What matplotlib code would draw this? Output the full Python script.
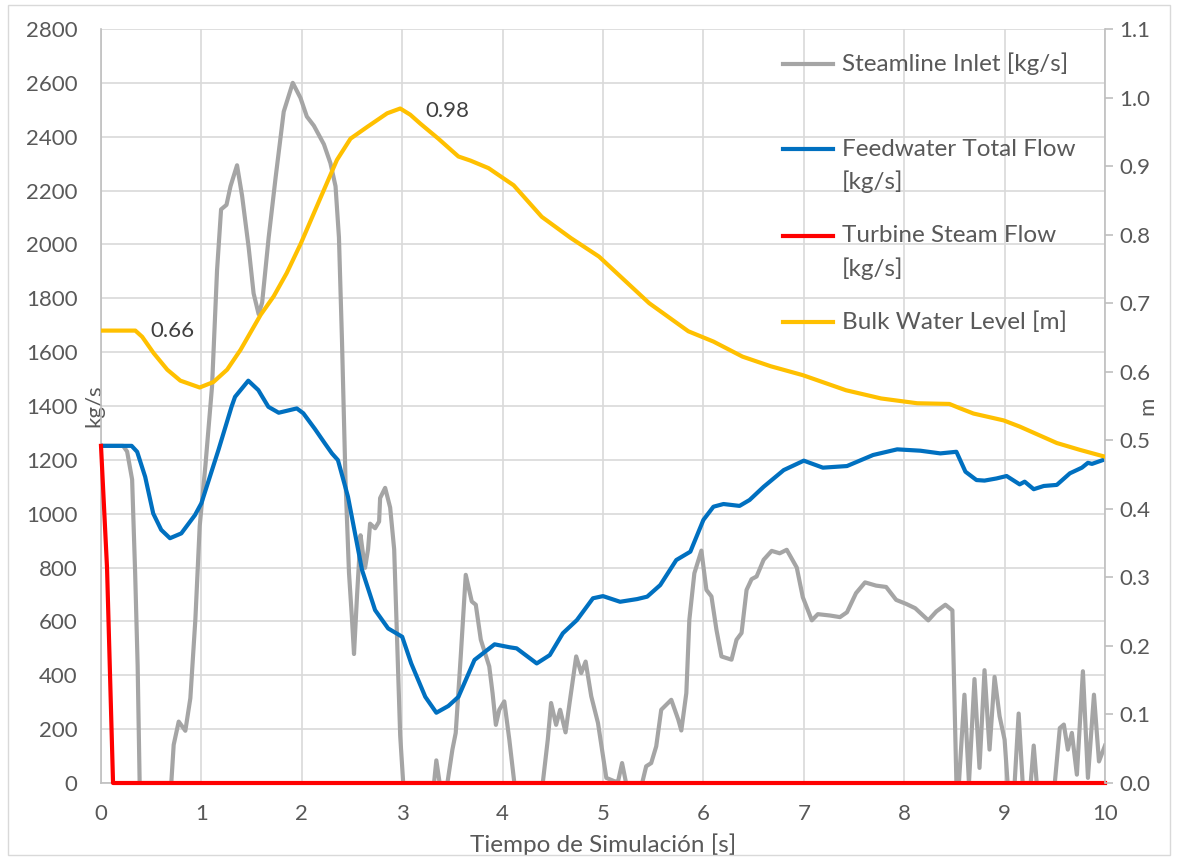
import numpy as np
import matplotlib
matplotlib.use("Agg")
import matplotlib.pyplot as plt
from matplotlib.patches import Rectangle
from matplotlib.lines import Line2D

plt.rcParams['font.family'] = ['Lato', 'DejaVu Sans']

# Steamline Inlet [kg/s]
t_steam = [0, 0.22, 0.26, 0.31, 0.34, 0.365, 0.385, 0.70, 0.724, 0.774, 0.84, 0.89, 0.94, 0.983,
           1.04, 1.106, 1.156, 1.196, 1.25, 1.29, 1.355, 1.405, 1.47, 1.52, 1.57, 1.605, 1.67,
           1.74, 1.82, 1.91, 1.987, 2.05, 2.12, 2.22, 2.285, 2.336, 2.37, 2.40, 2.435, 2.47,
           2.50, 2.52, 2.55, 2.585, 2.61, 2.63, 2.66, 2.68, 2.73, 2.77, 2.78, 2.83, 2.88, 2.92,
           2.95, 2.98, 3.01, 3.317, 3.34, 3.373, 3.45, 3.5, 3.533, 3.583, 3.633, 3.693, 3.733,
           3.783, 3.867, 3.9, 3.933, 3.967, 4.017, 4.067, 4.117, 4.4, 4.45, 4.483, 4.533, 4.573,
           4.627, 4.667, 4.733, 4.783, 4.827, 4.883, 4.95, 5.033, 5.117, 5.15, 5.19, 5.23, 5.39,
           5.43, 5.48, 5.53, 5.58, 5.68, 5.75, 5.78, 5.83, 5.86, 5.91, 5.98, 6.03, 6.08, 6.13,
           6.18, 6.28, 6.33, 6.38, 6.43, 6.48, 6.53, 6.6, 6.68, 6.76, 6.83, 6.93, 6.99, 7.08,
           7.14, 7.26, 7.36, 7.43, 7.52, 7.61, 7.72, 7.82, 7.92, 8.02, 8.11, 8.24, 8.32, 8.41,
           8.48, 8.52, 8.545, 8.60, 8.645, 8.70, 8.75, 8.80, 8.85, 8.90, 8.95, 9.0, 9.03, 9.10,
           9.14, 9.18, 9.26, 9.29, 9.32, 9.5, 9.55, 9.59, 9.63, 9.67, 9.72, 9.78, 9.83, 9.89,
           9.94, 10.0]
steam = [1252, 1252, 1231, 1127, 781, 436, 0, 0, 142, 228, 194, 315, 608, 954,
         1179, 1473, 1905, 2130, 2147, 2216, 2294, 2181, 1991, 1818, 1741, 1784, 2026,
         2251, 2493, 2600, 2544, 2475, 2441, 2372, 2302, 2216, 2026, 1646, 1127, 781,
         608, 479, 695, 920, 850, 799, 868, 963, 946, 971, 1058, 1096, 1023, 868,
         522, 176, 0, 0, 84, 0, 0, 124, 186, 470, 773, 674, 662,
         532, 433, 334, 216, 272, 303, 161, 0, 0, 161, 297, 216, 272,
         188, 297, 470, 408, 451, 322, 223, 19, 6, 6, 74, 0, 0,
         62, 74, 136, 272, 309, 235, 195, 334, 606, 779, 863, 717, 693, 569,
         470, 458, 532, 557, 717, 757, 767, 829, 862, 853, 866, 800, 690, 604,
         627, 622, 616, 634, 705, 745, 733, 728, 680, 665, 649, 604, 637, 662,
         641, 0, 0, 328, 0, 386, 56, 419, 124, 394, 248, 161, 0, 0,
         258, 0, 0, 139, 0, 0, 204, 217, 124, 186, 31, 415, 19, 328,
         80, 139]

# Feedwater Total Flow [kg/s]
t_feed = [0, 0.305, 0.36, 0.44, 0.52, 0.60, 0.687, 0.80, 0.936, 1.0, 1.17, 1.30, 1.335, 1.467,
          1.567, 1.667, 1.77, 1.95, 2.015, 2.13, 2.23, 2.30, 2.36, 2.46, 2.60, 2.73, 2.86, 3.0,
          3.09, 3.23, 3.34, 3.46, 3.56, 3.72, 3.92, 4.07, 4.14, 4.34, 4.47, 4.6, 4.74, 4.90,
          5.0, 5.17, 5.34, 5.44, 5.57, 5.73, 5.87, 6.0, 6.10, 6.20, 6.36, 6.46, 6.60, 6.80,
          7.0, 7.19, 7.43, 7.69, 7.93, 8.16, 8.36, 8.52, 8.61, 8.72, 8.80, 8.92, 9.02, 9.15,
          9.20, 9.29, 9.39, 9.52, 9.65, 9.77, 9.83, 9.87, 10.0]
feed = [1252, 1252, 1230, 1137, 1001, 940, 909, 927, 995, 1039, 1237, 1397, 1434, 1494,
        1459, 1397, 1375, 1391, 1373, 1315, 1261, 1224, 1199, 1063, 791, 642, 574, 543,
        444, 320, 261, 286, 320, 457, 515, 504, 500, 444, 475, 556, 605, 686,
        694, 673, 683, 692, 735, 828, 859, 977, 1026, 1036, 1029, 1051, 1100, 1162,
        1197, 1171, 1177, 1218, 1239, 1234, 1224, 1230, 1156, 1125, 1123, 1131, 1140, 1109,
        1119, 1091, 1103, 1107, 1150, 1171, 1189, 1185, 1202]

# Turbine Steam Flow [kg/s]
t_turb = [0, 0.06, 0.12, 10.0]
turb = [1252, 800, 0, 0]

# Bulk Water Level [m]
t_level = [0, 0.342, 0.41, 0.525, 0.66, 0.79, 0.983, 1.12, 1.256, 1.39, 1.59, 1.72, 1.85, 1.99,
           2.19, 2.35, 2.485, 2.65, 2.85, 2.98, 3.08, 3.18, 3.36, 3.56, 3.68, 3.86, 4.11, 4.39,
           4.68, 4.96, 5.21, 5.46, 5.85, 6.10, 6.39, 6.67, 6.99, 7.42, 7.77, 8.13, 8.45, 8.55,
           8.69, 8.99, 9.15, 9.52, 9.75, 10.0]
level = [0.66, 0.66, 0.651, 0.627, 0.603, 0.587, 0.577, 0.585, 0.603, 0.632, 0.683, 0.710, 0.744,
         0.787, 0.855, 0.909, 0.940, 0.957, 0.977, 0.984, 0.975, 0.962, 0.94, 0.914, 0.908, 0.897,
         0.872, 0.826, 0.795, 0.768, 0.734, 0.700, 0.659, 0.644, 0.622, 0.608, 0.595, 0.573,
         0.561, 0.554, 0.553, 0.547, 0.539, 0.529, 0.520, 0.496, 0.486, 0.476]

labels = ['Steamline Inlet [kg/s]', 'Feedwater Total Flow\n[kg/s]',
          'Turbine Steam Flow\n[kg/s]', 'Bulk Water Level [m]']
colors = ['#A5A5A5', '#0070C0', '#FF0000', '#FFC000']
txt = '#595959'
grid_c = '#D9D9D9'
lw = 3.0

fig = plt.figure(figsize=(11.77, 8.59), dpi=100)
ax = fig.add_axes([101/1177, 1-783/859, 1004/1177, 754/859])
ax2 = ax.twinx()

ax.plot(t_steam, steam, color=colors[0], lw=lw, solid_joinstyle='round', zorder=3)
ax.plot(t_feed, feed, color=colors[1], lw=lw, solid_joinstyle='round', zorder=4)
ax.plot(t_turb, turb, color=colors[2], lw=lw, solid_joinstyle='round', zorder=5, clip_on=False)
ax2.plot(t_level, level, color=colors[3], lw=lw, solid_joinstyle='round', zorder=5)

ax.set_xlim(0, 10)
ax.set_ylim(0, 2800)
ax2.set_ylim(0, 1.1)
ax.set_xticks(range(0, 11))
ax.set_yticks(range(0, 2801, 200))
ax2.set_yticks(np.arange(0, 1.101, 0.1))
ax2.set_yticklabels(['%.1f' % v for v in np.arange(0, 1.101, 0.1)])

ax.grid(True, color=grid_c, lw=1.2)
ax.set_axisbelow(True)

for s in ax.spines.values():
    s.set_color('#BFBFBF')
    s.set_linewidth(1.2)
for name in ('top', 'right'):
    ax.spines[name].set_visible(False)
for name in ('top', 'left', 'bottom'):
    ax2.spines[name].set_visible(False)
ax2.spines['right'].set_color('#BFBFBF')
ax2.spines['right'].set_linewidth(1.2)

ax.tick_params(axis='both', length=0, labelsize=16, labelcolor=txt)
ax.tick_params(axis='y', pad=17)
ax.tick_params(axis='x', pad=15)
ax2.tick_params(axis='y', length=6, width=1.2, color='#BFBFBF', labelsize=16,
                labelcolor=txt, pad=4)

ax.set_xlabel('Tiempo de Simulación [s]', fontsize=17.5, color=txt, labelpad=7)
ax.set_ylabel('kg/s', fontsize=16, color=txt)
ax.yaxis.set_label_coords(0.003, 0.5)
ax2.set_ylabel('m', fontsize=16, color=txt)
ax2.yaxis.set_label_coords(1.032, 0.5)

# data labels
ax2.text(0.49, 0.66, '0.66', fontsize=16, color='#404040', va='center')
ax2.text(3.23, 0.98, '0.98', fontsize=16, color='#404040', va='center')

# legend (Excel-style, right side)
leg_y = [0.9536, 0.8408, 0.7255, 0.6114]
line_step = 33 / 754
for lab, c, y in zip(labels, colors, leg_y):
    ax.add_line(Line2D([0.679, 0.729], [y, y], transform=ax.transAxes, color=c,
                       lw=lw, zorder=6))
    for i, part in enumerate(lab.split('\n')):
        ax.text(0.738, y - i * line_step, part, transform=ax.transAxes, fontsize=17.5,
                color=txt, va='center', zorder=6)

fig.patches.append(Rectangle((8/1177, 4/859), 1162/1177, 850/859, transform=fig.transFigure,
                             fill=False, edgecolor='#D9D9D9', lw=1))

fig.savefig('out.png', dpi=100)
